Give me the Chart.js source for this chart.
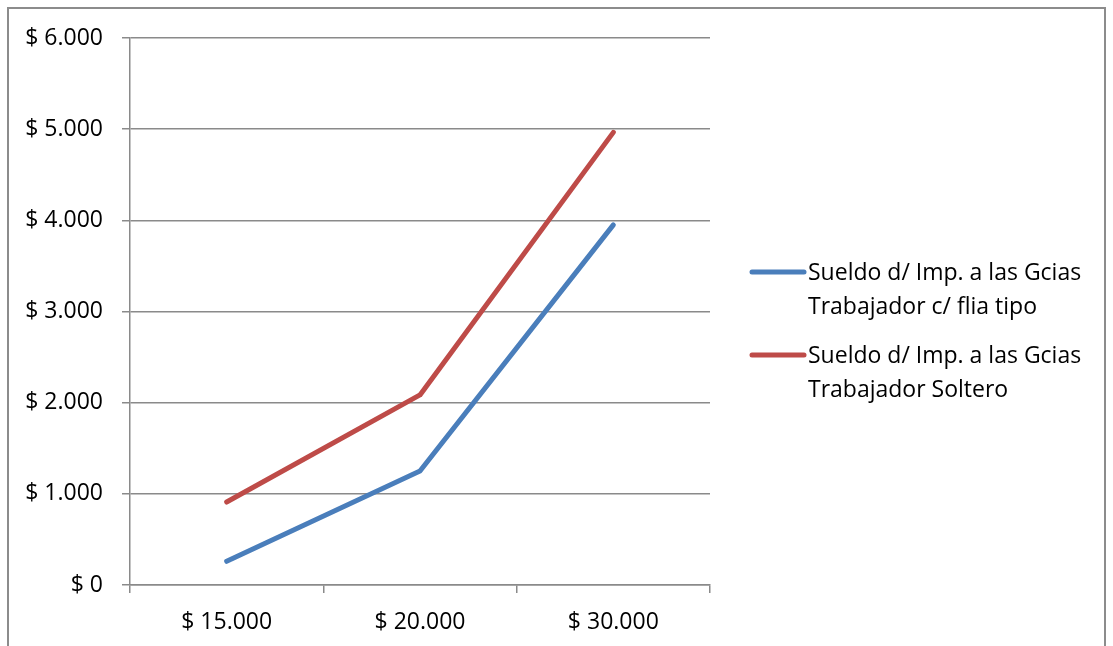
<!DOCTYPE html>
<html>
<head>
<meta charset="utf-8">
<script src="https://cdn.jsdelivr.net/npm/chart.js@4"></script>
<style>
  html, body { margin: 0; padding: 0; background: #fff; overflow: hidden; }
  #wrap { width: 1113px; height: 646px; position: relative; }
</style>
</head>
<body>
<div id="wrap"><canvas id="sueldos"></canvas></div>
<script>
var sueldos = ['$ 15.000', '$ 20.000', '$ 30.000'];
var fliaTipo = [260, 1250, 3950];
var soltero = [910, 2085, 4965];
var nombres = [
    ['Sueldo d/ Imp. a las Gcias', 'Trabajador c/ flia tipo'],
    ['Sueldo d/ Imp. a las Gcias', 'Trabajador Soltero']
];

var fuente = '"Open Sans", Lato, sans-serif';
var tam = 23;
var gris = '#8a8a8a';

function pesos(v) {
    return '$ ' + String(v).replace(/\B(?=(\d{3})+(?!\d))/g, '.');
}

// marco exterior del gráfico
var marco = {
    id: 'marco',
    beforeDraw: function (chart) {
        var c = chart.ctx;
        c.save();
        c.fillStyle = '#fff';
        c.fillRect(0, 0, chart.width, chart.height);
        c.strokeStyle = '#8c8c8c';
        c.lineWidth = 2;
        c.strokeRect(8, 8, chart.width - 16, chart.height + 20);
        c.restore();
    }
};

// leyenda a la derecha con textos de dos renglones
var leyenda = {
    id: 'leyenda',
    afterDraw: function (chart) {
        var c = chart.ctx;
        var x = chart.chartArea.right + 40;
        var y = 272;
        c.save();
        c.font = tam + 'px ' + fuente;
        c.textBaseline = 'middle';
        chart.data.datasets.forEach(function (ds, i) {
            c.strokeStyle = ds.borderColor;
            c.lineWidth = 5;
            c.lineCap = 'round';
            c.beginPath();
            c.moveTo(x + 2, y);
            c.lineTo(x + 54, y);
            c.stroke();
            c.fillStyle = '#000';
            ds.lineas.forEach(function (t, k) {
                c.fillText(t, x + 58, y + 1 + k * 34);
            });
            y += 83;
        });
        c.restore();
    }
};

var ctx = document.getElementById('sueldos').getContext('2d');
var chart = new Chart(ctx, {
    type: 'line',
    data: {
        labels: sueldos,
        datasets: [
            { label: nombres[0].join(' '), lineas: nombres[0], data: fliaTipo, borderColor: '#4a7ebb' },
            { label: nombres[1].join(' '), lineas: nombres[1], data: soltero, borderColor: '#be4b48' }
        ]
    },
    options: {
        responsive: true,
        maintainAspectRatio: false,
        animation: false,
        layout: { padding: { top: 38, right: 403, left: 0, bottom: 0 } },
        elements: {
            line: { borderWidth: 5, tension: 0, borderCapStyle: 'round', borderJoinStyle: 'round' },
            point: { radius: 0, hoverRadius: 0 }
        },
        plugins: {
            legend: { display: false },
            tooltip: { enabled: false }
        },
        scales: {
            x: {
                offset: true,
                grid: { display: true, offset: true, drawOnChartArea: false, drawTicks: true, tickLength: 8, color: gris, lineWidth: 1.5 },
                border: { color: gris, width: 1.5 },
                ticks: { color: '#000', font: { family: fuente, size: tam }, padding: 16, maxRotation: 0 },
                afterFit: function (s) { s.height = 61; }
            },
            y: {
                min: 0,
                max: 6000,
                grid: { color: gris, lineWidth: 1.5, tickLength: 8 },
                border: { color: gris, width: 1.5 },
                ticks: {
                    stepSize: 1000,
                    color: '#000',
                    font: { family: fuente, size: tam },
                    padding: 19,
                    callback: function (v) { return pesos(v); }
                },
                afterFit: function (s) { s.width = 130; }
            }
        }
    },
    plugins: [marco, leyenda]
});
</script>
</body>
</html>
